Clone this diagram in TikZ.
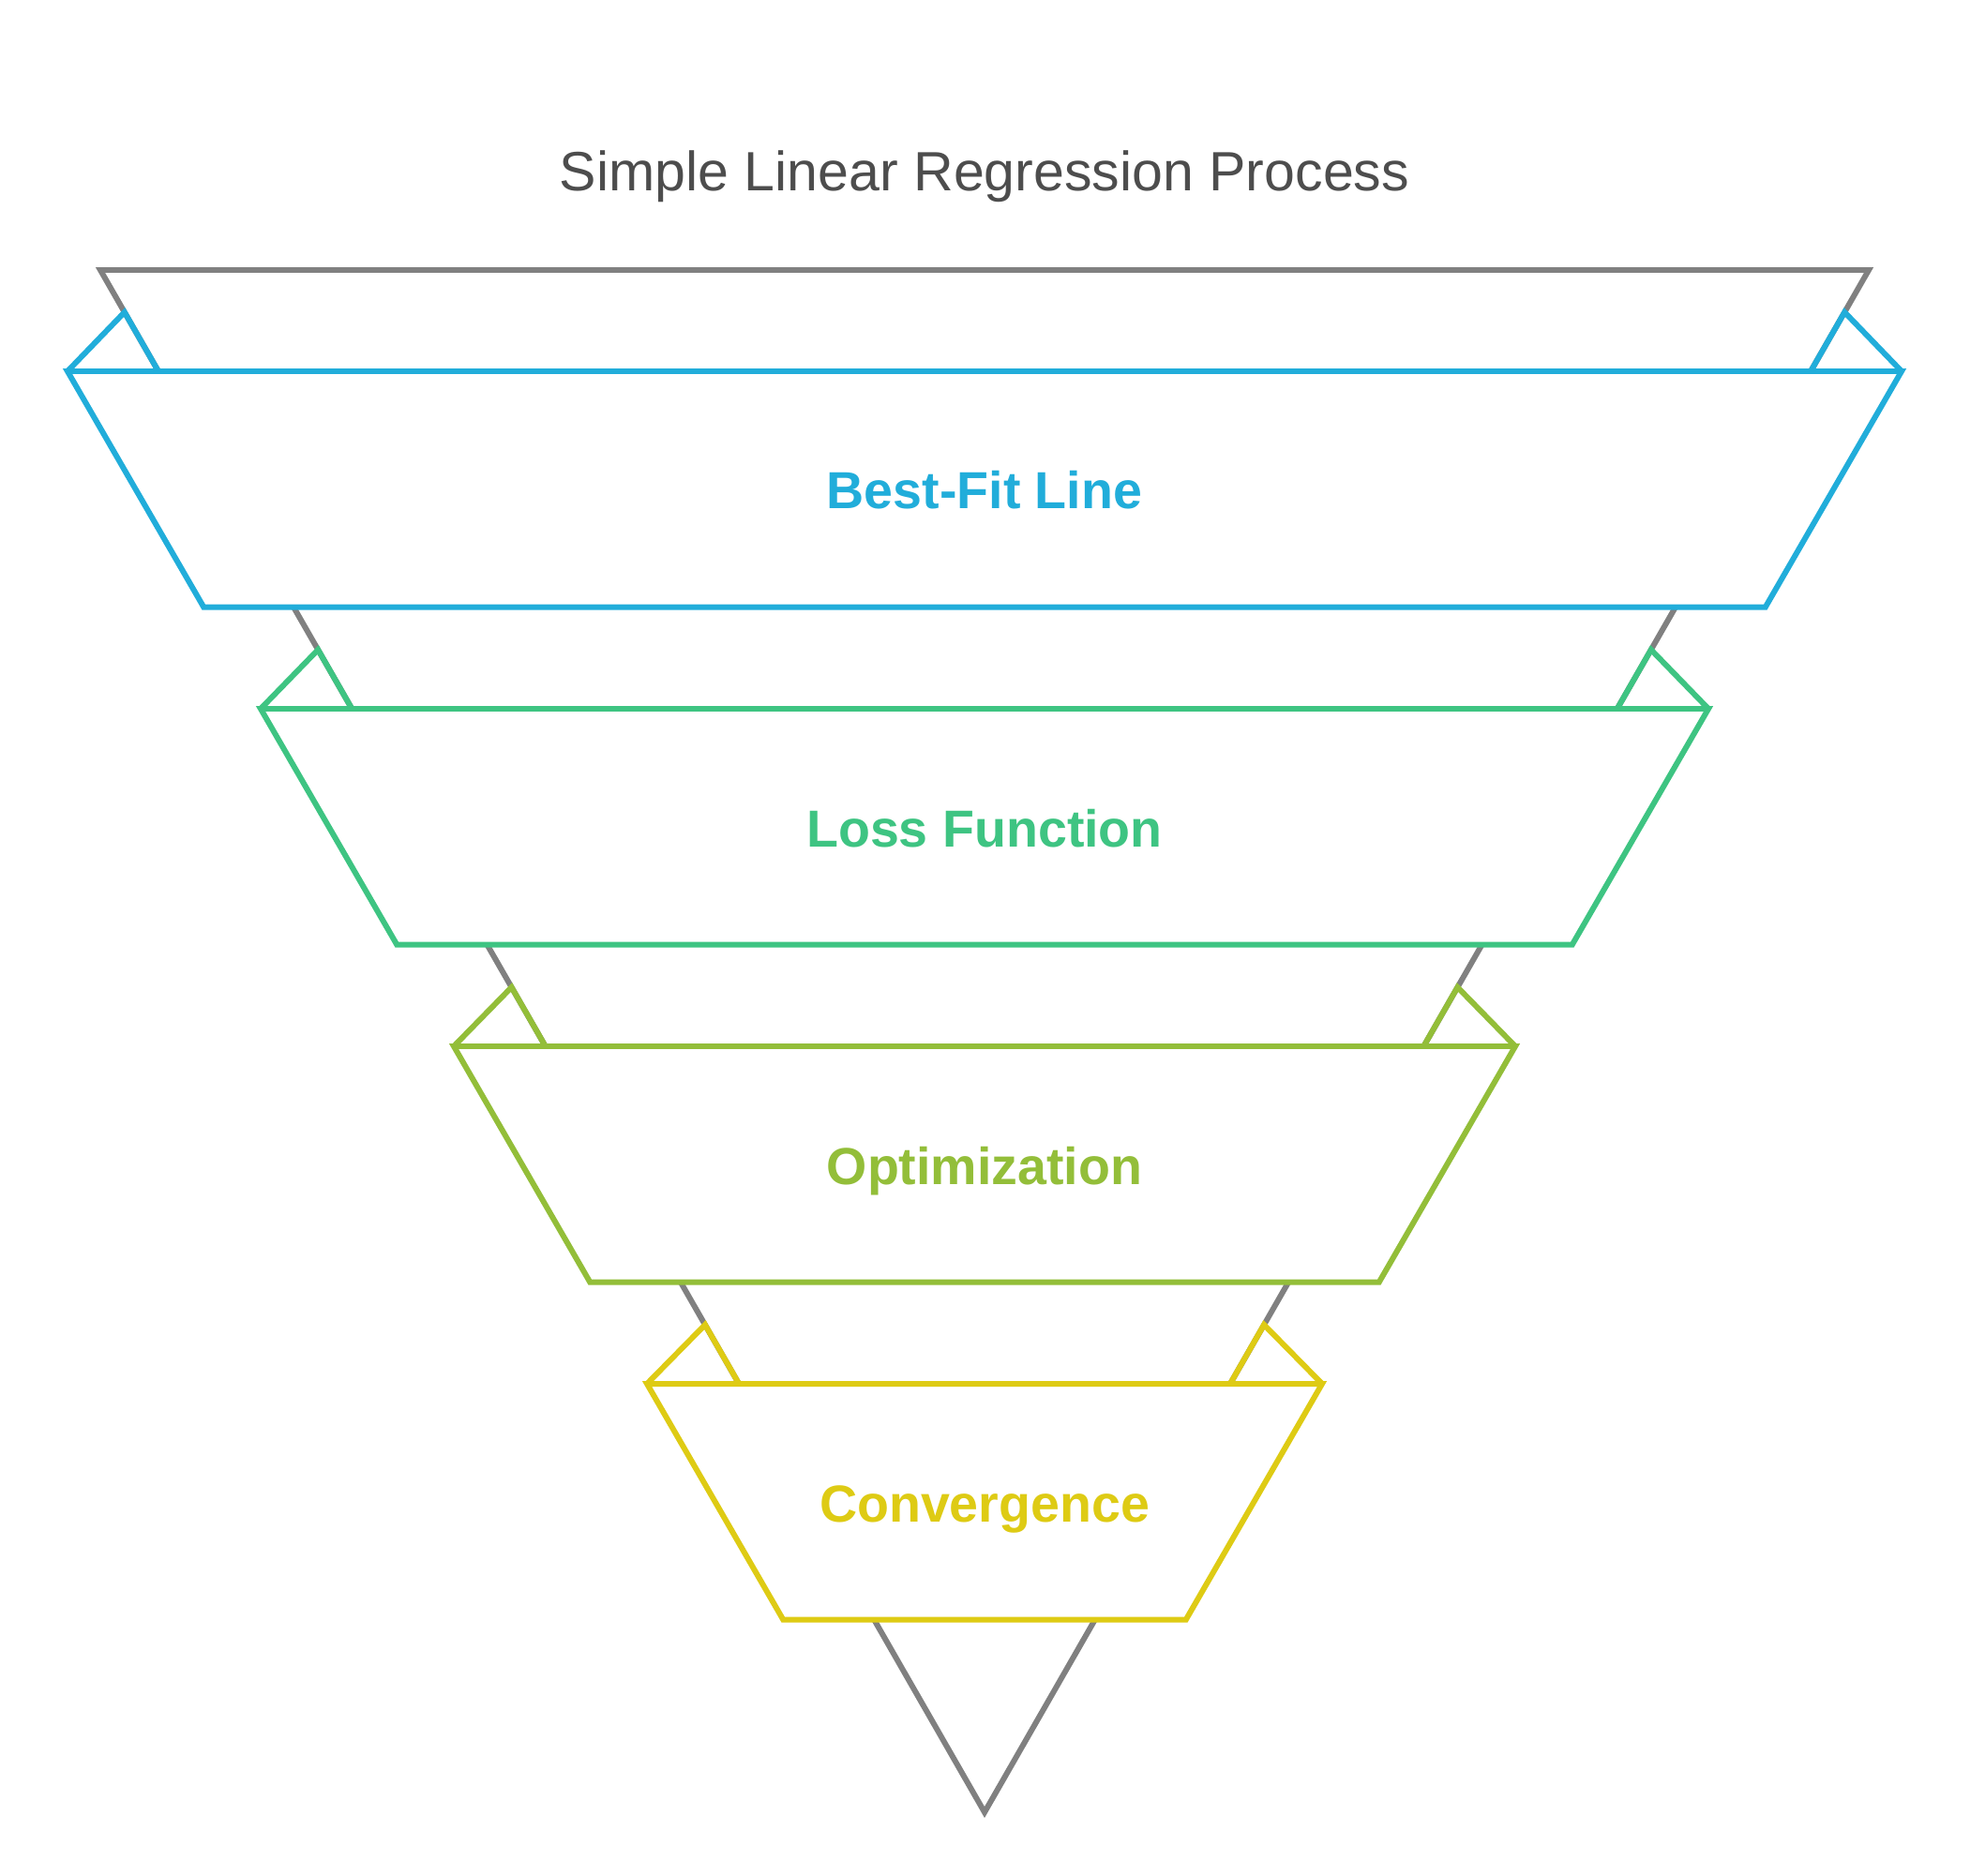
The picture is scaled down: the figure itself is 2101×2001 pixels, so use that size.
\documentclass[tikz,border=0pt]{standalone}
\usepackage{fontspec}
\setmainfont{Liberation Sans}
\definecolor{fgray}{HTML}{808080}
\definecolor{ftitle}{HTML}{4D4D4D}
\definecolor{fblue}{HTML}{21ADDA}
\definecolor{fgreen}{HTML}{3EC482}
\definecolor{flime}{HTML}{93BE39}
\definecolor{fyellow}{HTML}{DECB14}
\tikzset{
  edge/.style={line width=1.7pt, line join=miter},
  lbl/.style={font=\bfseries\fontsize{15.8}{19}\selectfont, anchor=base, inner sep=0pt},
}
% band: #1 colour, #2 top y, #3 top half width, #4 name, #5 label
\newcommand{\funnelband}[5]{%
  \pgfmathsetmacro{\ty}{#2}%
  \pgfmathsetmacro{\by}{#2+251.7}%
  \pgfmathsetmacro{\ey}{#2-63}%
  \pgfmathsetmacro{\tw}{#3}%
  \pgfmathsetmacro{\bw}{#3-145.3}%
  \pgfmathsetmacro{\gi}{943-0.5733*(#2-288)}%
  \pgfmathsetmacro{\ge}{943-0.5733*(#2-63-288)}%
  \draw[edge, draw=#1, fill=white] (1050-\tw,\ty) -- (1050+\tw,\ty) -- (1050+\bw,\by) -- (1050-\bw,\by) -- cycle;
  \draw[edge, draw=#1] (1050-\tw,\ty) -- (1050-\ge,\ey) -- (1050-\gi,\ty);
  \draw[edge, draw=#1] (1050+\tw,\ty) -- (1050+\ge,\ey) -- (1050+\gi,\ty);
  \node[lbl, text=#1] (#4) at (1050,#2+147) {#5};%
}
\begin{document}
\begin{tikzpicture}[x=0.01cm,y=-0.01cm]
\useasboundingbox (0,0) rectangle (2101,2001);
\node[font=\fontsize{16.8}{20}\selectfont, text=ftitle, anchor=base, inner sep=0pt] (title) at (1050,204) {Simple Linear Regression Process};
\draw[edge, draw=fgray] (107,288) -- (1993,288) -- (1050,1933) -- cycle;
\funnelband{fblue}{396}{978}{best}{Best-Fit Line}
\funnelband{fgreen}{756}{772}{loss}{Loss Function}
\funnelband{flime}{1116}{566}{opt}{Optimization}
\funnelband{fyellow}{1476}{360}{conv}{Convergence}
\end{tikzpicture}
\end{document}
